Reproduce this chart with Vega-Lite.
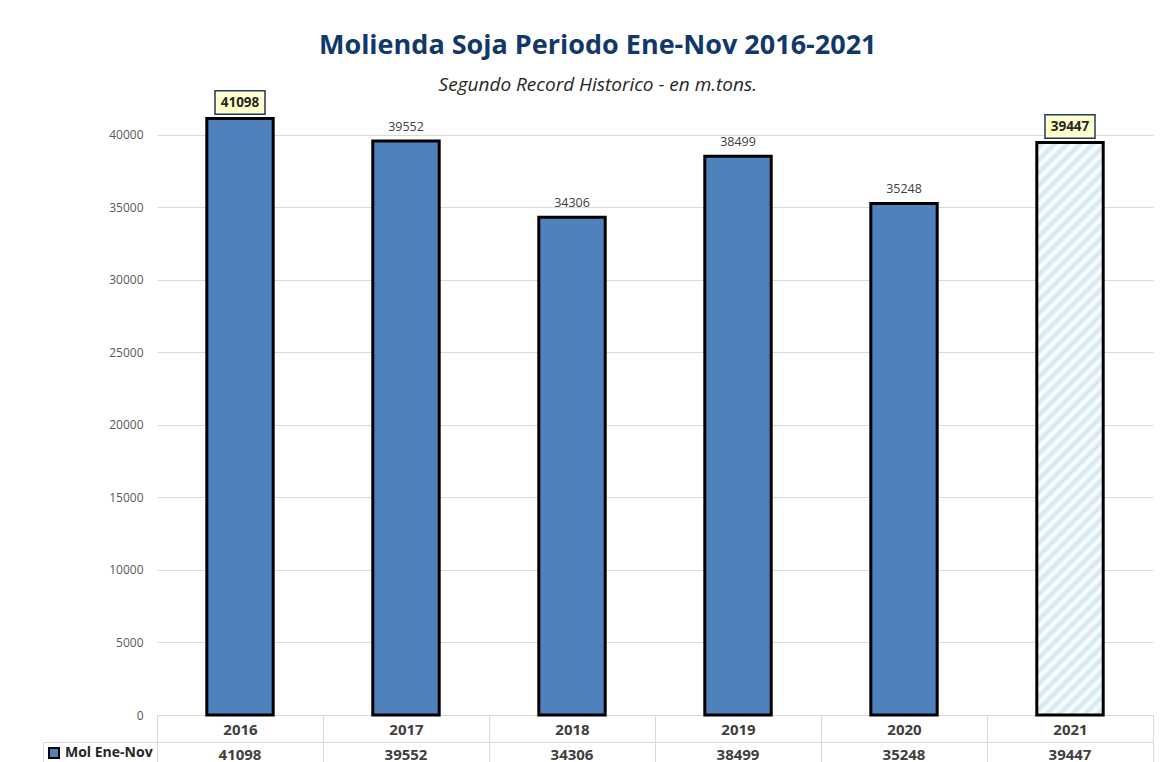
{
  "$schema": "https://vega.github.io/schema/vega-lite/v6.json",
  "padding": {"left": 42, "top": 31, "right": 5, "bottom": 0},
  "background": "white",
  "title": {
    "text": "Molienda Soja Periodo Ene-Nov 2016-2021",
    "subtitle": "Segundo Record Historico - en m.tons.",
    "anchor": "middle",
    "font": "Open Sans",
    "fontSize": 27,
    "fontWeight": "bold",
    "color": "#12386B",
    "subtitleFont": "Open Sans",
    "subtitleFontSize": 19,
    "subtitleFontStyle": "italic",
    "subtitleColor": "#262626",
    "subtitlePadding": 16,
    "offset": -8
  },
  "data": {
    "values": [
      {"anio": "2016", "serie": "Mol Ene-Nov", "valor": 41098},
      {"anio": "2017", "serie": "Mol Ene-Nov", "valor": 39552},
      {"anio": "2018", "serie": "Mol Ene-Nov", "valor": 34306},
      {"anio": "2019", "serie": "Mol Ene-Nov", "valor": 38499},
      {"anio": "2020", "serie": "Mol Ene-Nov", "valor": 35248},
      {"anio": "2021", "serie": "Mol Ene-Nov", "valor": 39447}
    ]
  },
  "bounds": "flush",
  "spacing": 27,
  "resolve": {"legend": {"color": "independent"}, "scale": {"color": "independent"}},
  "vconcat": [
    {
      "width": 996,
      "height": 624,
      "view": {"stroke": null},
      "encoding": {
        "x": {
          "field": "anio",
          "type": "ordinal",
          "scale": {"paddingInner": 0, "paddingOuter": 0},
          "axis": {
            "title": null,
            "labelAngle": 0,
            "domainColor": "#D9D9D9",
            "tickColor": "#D9D9D9",
            "tickBand": "extent",
            "tickSize": 27,
            "labelPadding": -20,
            "labelFont": "Open Sans",
            "labelFontWeight": "bold",
            "labelFontSize": 15,
            "labelColor": "#404040"
          }
        },
        "y": {
          "field": "valor",
          "type": "quantitative",
          "scale": {"domain": [0, 43000], "nice": false},
          "axis": {
            "title": null,
            "values": [0, 5000, 10000, 15000, 20000, 25000, 30000, 35000, 40000],
            "format": "d",
            "domain": false,
            "ticks": false,
            "gridColor": "#D9D9D9",
            "labelFont": "Open Sans",
            "labelFontSize": 12,
            "labelColor": "#595959",
            "labelPadding": 14
          }
        }
      },
      "layer": [
        {
          "transform": [{"filter": "datum.anio != '2021'"}],
          "mark": {"type": "bar", "width": {"band": 0.4}, "fill": "#4F81BD", "stroke": "#000000", "strokeWidth": 3}
        },
        {
          "transform": [{"filter": "datum.anio == '2021'"}],
          "mark": {
            "type": "bar",
            "width": {"band": 0.4},
            "stroke": "#000000",
            "strokeWidth": 3,
            "fill": {
              "gradient": "linear",
              "x1": 0, "y1": 0, "x2": 0.1277, "y2": 1.1012,
              "stops": [
                {"offset": 0, "color": "#FFFFFF"}, {"offset": 0.01, "color": "#CFE6F0"},
                {"offset": 0.02, "color": "#FFFFFF"}, {"offset": 0.03, "color": "#CFE6F0"},
                {"offset": 0.04, "color": "#FFFFFF"}, {"offset": 0.05, "color": "#CFE6F0"},
                {"offset": 0.06, "color": "#FFFFFF"}, {"offset": 0.07, "color": "#CFE6F0"},
                {"offset": 0.08, "color": "#FFFFFF"}, {"offset": 0.09, "color": "#CFE6F0"},
                {"offset": 0.10, "color": "#FFFFFF"}, {"offset": 0.11, "color": "#CFE6F0"},
                {"offset": 0.12, "color": "#FFFFFF"}, {"offset": 0.13, "color": "#CFE6F0"},
                {"offset": 0.14, "color": "#FFFFFF"}, {"offset": 0.15, "color": "#CFE6F0"},
                {"offset": 0.16, "color": "#FFFFFF"}, {"offset": 0.17, "color": "#CFE6F0"},
                {"offset": 0.18, "color": "#FFFFFF"}, {"offset": 0.19, "color": "#CFE6F0"},
                {"offset": 0.20, "color": "#FFFFFF"}, {"offset": 0.21, "color": "#CFE6F0"},
                {"offset": 0.22, "color": "#FFFFFF"}, {"offset": 0.23, "color": "#CFE6F0"},
                {"offset": 0.24, "color": "#FFFFFF"}, {"offset": 0.25, "color": "#CFE6F0"},
                {"offset": 0.26, "color": "#FFFFFF"}, {"offset": 0.27, "color": "#CFE6F0"},
                {"offset": 0.28, "color": "#FFFFFF"}, {"offset": 0.29, "color": "#CFE6F0"},
                {"offset": 0.30, "color": "#FFFFFF"}, {"offset": 0.31, "color": "#CFE6F0"},
                {"offset": 0.32, "color": "#FFFFFF"}, {"offset": 0.33, "color": "#CFE6F0"},
                {"offset": 0.34, "color": "#FFFFFF"}, {"offset": 0.35, "color": "#CFE6F0"},
                {"offset": 0.36, "color": "#FFFFFF"}, {"offset": 0.37, "color": "#CFE6F0"},
                {"offset": 0.38, "color": "#FFFFFF"}, {"offset": 0.39, "color": "#CFE6F0"},
                {"offset": 0.40, "color": "#FFFFFF"}, {"offset": 0.41, "color": "#CFE6F0"},
                {"offset": 0.42, "color": "#FFFFFF"}, {"offset": 0.43, "color": "#CFE6F0"},
                {"offset": 0.44, "color": "#FFFFFF"}, {"offset": 0.45, "color": "#CFE6F0"},
                {"offset": 0.46, "color": "#FFFFFF"}, {"offset": 0.47, "color": "#CFE6F0"},
                {"offset": 0.48, "color": "#FFFFFF"}, {"offset": 0.49, "color": "#CFE6F0"},
                {"offset": 0.50, "color": "#FFFFFF"}, {"offset": 0.51, "color": "#CFE6F0"},
                {"offset": 0.52, "color": "#FFFFFF"}, {"offset": 0.53, "color": "#CFE6F0"},
                {"offset": 0.54, "color": "#FFFFFF"}, {"offset": 0.55, "color": "#CFE6F0"},
                {"offset": 0.56, "color": "#FFFFFF"}, {"offset": 0.57, "color": "#CFE6F0"},
                {"offset": 0.58, "color": "#FFFFFF"}, {"offset": 0.59, "color": "#CFE6F0"},
                {"offset": 0.60, "color": "#FFFFFF"}, {"offset": 0.61, "color": "#CFE6F0"},
                {"offset": 0.62, "color": "#FFFFFF"}, {"offset": 0.63, "color": "#CFE6F0"},
                {"offset": 0.64, "color": "#FFFFFF"}, {"offset": 0.65, "color": "#CFE6F0"},
                {"offset": 0.66, "color": "#FFFFFF"}, {"offset": 0.67, "color": "#CFE6F0"},
                {"offset": 0.68, "color": "#FFFFFF"}, {"offset": 0.69, "color": "#CFE6F0"},
                {"offset": 0.70, "color": "#FFFFFF"}, {"offset": 0.71, "color": "#CFE6F0"},
                {"offset": 0.72, "color": "#FFFFFF"}, {"offset": 0.73, "color": "#CFE6F0"},
                {"offset": 0.74, "color": "#FFFFFF"}, {"offset": 0.75, "color": "#CFE6F0"},
                {"offset": 0.76, "color": "#FFFFFF"}, {"offset": 0.77, "color": "#CFE6F0"},
                {"offset": 0.78, "color": "#FFFFFF"}, {"offset": 0.79, "color": "#CFE6F0"},
                {"offset": 0.80, "color": "#FFFFFF"}, {"offset": 0.81, "color": "#CFE6F0"},
                {"offset": 0.82, "color": "#FFFFFF"}, {"offset": 0.83, "color": "#CFE6F0"},
                {"offset": 0.84, "color": "#FFFFFF"}, {"offset": 0.85, "color": "#CFE6F0"},
                {"offset": 0.86, "color": "#FFFFFF"}, {"offset": 0.87, "color": "#CFE6F0"},
                {"offset": 0.88, "color": "#FFFFFF"}, {"offset": 0.89, "color": "#CFE6F0"},
                {"offset": 0.90, "color": "#FFFFFF"}, {"offset": 0.91, "color": "#CFE6F0"},
                {"offset": 0.92, "color": "#FFFFFF"}, {"offset": 0.93, "color": "#CFE6F0"},
                {"offset": 0.94, "color": "#FFFFFF"}, {"offset": 0.95, "color": "#CFE6F0"},
                {"offset": 0.96, "color": "#FFFFFF"}, {"offset": 0.97, "color": "#CFE6F0"},
                {"offset": 0.98, "color": "#FFFFFF"}, {"offset": 0.99, "color": "#CFE6F0"},
                {"offset": 1, "color": "#FFFFFF"}
              ]
            }
          }
        },
        {
          "transform": [{"filter": "datum.anio != '2016' && datum.anio != '2021'"}],
          "mark": {"type": "text", "dy": -10, "baseline": "alphabetic", "font": "Open Sans", "fontSize": 12.5, "color": "#404040"},
          "encoding": {"text": {"field": "valor", "type": "quantitative", "format": "d"}}
        },
        {
          "transform": [{"filter": "datum.anio == '2016' || datum.anio == '2021'"}],
          "mark": {"type": "point", "shape": "M-1,-0.47H1V0.47H-1Z", "size": 2500, "filled": true, "fill": "#FFFFCC", "stroke": "#1F3864", "strokeWidth": 1.5, "opacity": 1, "yOffset": -16}
        },
        {
          "transform": [{"filter": "datum.anio == '2016' || datum.anio == '2021'"}],
          "mark": {"type": "text", "yOffset": -16, "baseline": "middle", "font": "Open Sans", "fontSize": 13.5, "fontWeight": "bold", "color": "#262626"},
          "encoding": {"text": {"field": "valor", "type": "quantitative", "format": "d"}}
        }
      ]
    },
    {
      "width": 996,
      "height": 25,
      "view": {"stroke": "#D9D9D9"},
      "encoding": {
        "x": {
          "field": "anio",
          "type": "ordinal",
          "scale": {"paddingInner": 0, "paddingOuter": 0},
          "axis": {"title": null, "labels": false, "ticks": false, "domain": false, "grid": true, "gridColor": "#D9D9D9", "tickBand": "extent"}
        }
      },
      "layer": [
        {
          "mark": {"type": "text", "font": "Open Sans", "fontSize": 15, "fontWeight": "bold", "color": "#404040", "baseline": "middle"},
          "encoding": {"text": {"field": "valor", "type": "quantitative", "format": "d"}}
        },
        {
          "mark": {"type": "point", "shape": "square", "filled": true, "stroke": "#000000", "strokeWidth": 2, "size": 0, "opacity": 1},
          "encoding": {
            "color": {
              "field": "serie",
              "type": "nominal",
              "scale": {"range": ["#4F81BD"]},
              "legend": {
                "title": null,
                "orient": "left",
                "offset": 0,
                "padding": 4,
                "strokeColor": "#D9D9D9",
                "symbolType": "square",
                "symbolSize": 100,
                "symbolStrokeColor": "#000000",
                "symbolStrokeWidth": 2,
                "symbolOpacity": 1,
                "labelFont": "Open Sans",
                "labelFontWeight": "bold",
                "labelFontSize": 14,
                "labelColor": "#262626",
                "labelOffset": 4
              }
            }
          }
        }
      ]
    }
  ]
}
